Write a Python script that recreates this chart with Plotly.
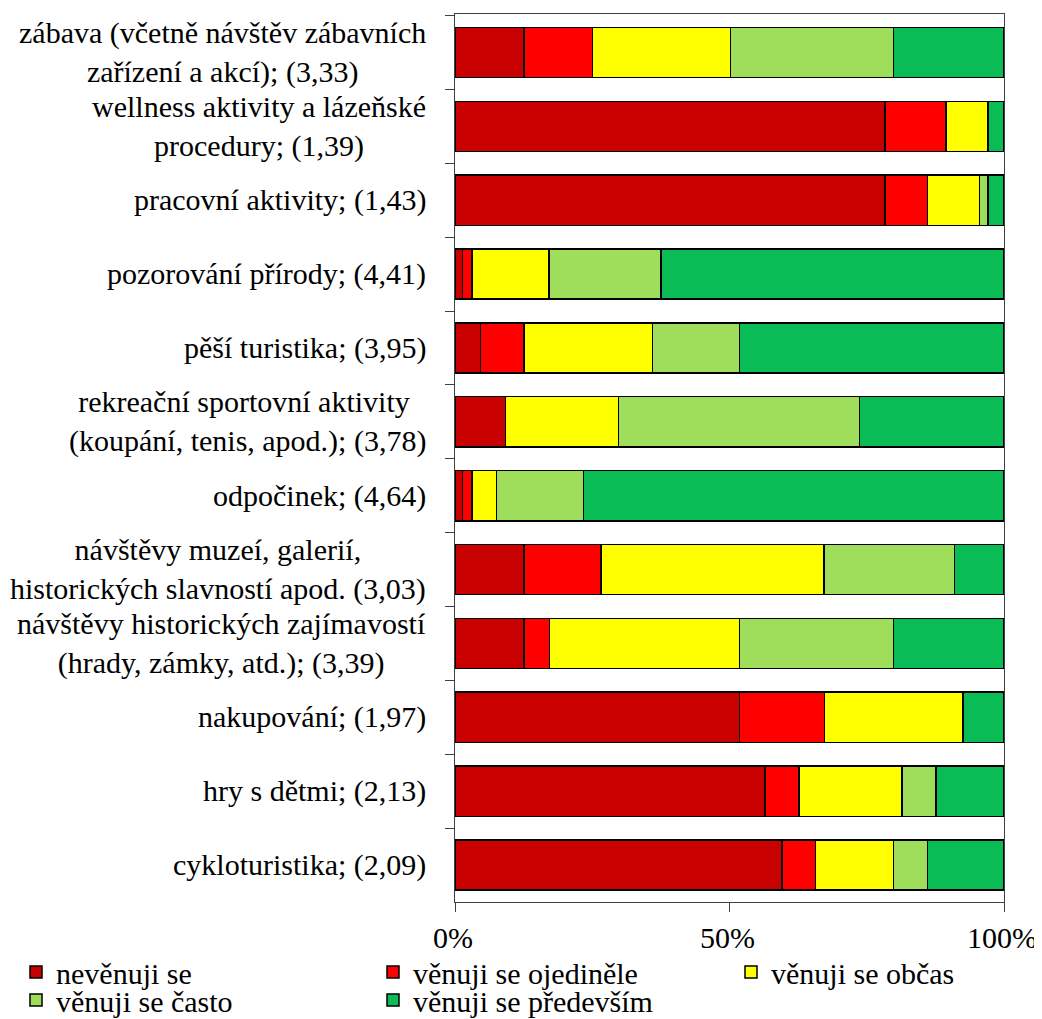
import plotly.graph_objects as go

categories = [
    "zábava (včetně návštěv zábavních<br>zařízení a akcí); (3,33)",
    "wellness aktivity a lázeňské<br>procedury; (1,39)",
    "pracovní aktivity; (1,43)",
    "pozorování přírody; (4,41)",
    "pěší turistika; (3,95)",
    "rekreační sportovní aktivity <br>(koupání, tenis, apod.); (3,78)",
    "odpočinek; (4,64)",
    "návštěvy muzeí, galerií,<br>historických slavností apod. (3,03)",
    "návštěvy historických zajímavostí<br>(hrady, zámky, atd.); (3,39)",
    "nakupování; (1,97)",
    "hry s dětmi; (2,13)",
    "cykloturistika; (2,09)",
]

series_names = ["nevěnuji se", "věnuji se ojediněle", "věnuji se občas",
                "věnuji se často", "věnuji se především"]

nevenuji = [12.6, 78.3, 78.3, 1.4, 4.6, 9.2, 1.4, 12.6, 12.6, 51.8, 56.5, 59.6]
ojedinele = [12.4, 11.1, 7.8, 1.7, 8.0, 0.0, 1.7, 14.0, 4.6, 15.5, 6.2, 6.1]
obcas = [25.2, 7.7, 9.4, 14.0, 23.4, 20.6, 4.5, 40.6, 34.6, 25.2, 18.7, 14.2]
casto = [29.7, 0.0, 1.6, 20.4, 15.8, 43.9, 15.8, 23.8, 28.1, 0.0, 6.2, 6.2]
predevsim = [20.1, 2.9, 2.9, 62.5, 48.2, 26.3, 76.6, 9.0, 20.1, 7.5, 12.4, 13.9]

x_tickvals = [0, 50, 100]
x_ticktext = ["0%", "50%", "100%"]

colors = ["#C80000", "#FF0000", "#FFFF00", "#9FDE5A", "#0ABC55"]
FONT = "Liberation Serif"
FS = 30

# the page body has an 8px margin: the figure starts 8px in; it is made a bit taller
# than the window so the bottom legend row is not squeezed
W, H = 1034, 1050
legend_ids = ["legend", "legend2", "legend3", "legend4", "legend5"]
# legend slot positions (pixels in figure): column x, row centre y
legend_px = [(8, 964), (365, 964), (723, 964), (8, 992), (365, 992)]

fig = go.Figure()
for name, vals, col, lg in zip(series_names, [nevenuji, ojedinele, obcas, casto, predevsim], colors, legend_ids):
    fig.add_trace(go.Bar(
        y=categories, x=vals, name=name, orientation="h", legend=lg,
        marker=dict(color=col, line=dict(color="black", width=1.5)),
    ))

for c in categories:
    fig.add_annotation(
        x=0, xref="paper", y=c, yref="y", text=c, showarrow=False,
        xanchor="right", yanchor="middle", align="center", xshift=-27,
        font=dict(family=FONT, size=FS, color="black"),
    )

legend_layout = {}
for lg, (px, py) in zip(legend_ids, legend_px):
    legend_layout[lg] = dict(
        orientation="v", xref="container", yref="container",
        x=px / W, y=1 - py / H, xanchor="left", yanchor="middle",
        font=dict(family=FONT, size=FS, color="black"),
        itemwidth=30, bgcolor="rgba(0,0,0,0)", borderwidth=0,
    )

fig.update_layout(
    barmode="stack",
    bargap=0.32,
    width=W, height=H,
    margin=dict(l=447, r=38, t=6, b=H - 894, autoexpand=False),
    paper_bgcolor="white", plot_bgcolor="white",
    font=dict(family=FONT, size=FS, color="black"),
    showlegend=True,
    **legend_layout,
)
fig.update_xaxes(
    range=[0, 100], tickvals=x_tickvals, ticktext=x_ticktext,
    showgrid=False, zeroline=False,
    showline=True, linecolor="#404040", linewidth=1, mirror=True,
    ticks="outside", ticklen=9, tickcolor="#404040", ticklabelstandoff=0,
    ticklabelshift=-2, ticklabeloverflow="allow",
    tickfont=dict(family=FONT, size=FS, color="black"),
)
fig.update_yaxes(
    autorange="reversed", showticklabels=False,
    showgrid=False, zeroline=False,
    showline=True, linecolor="#404040", linewidth=1, mirror=True,
    ticks="outside", ticklen=9, tickcolor="#404040", tickson="boundaries",
)

fig.write_html("out.html")
